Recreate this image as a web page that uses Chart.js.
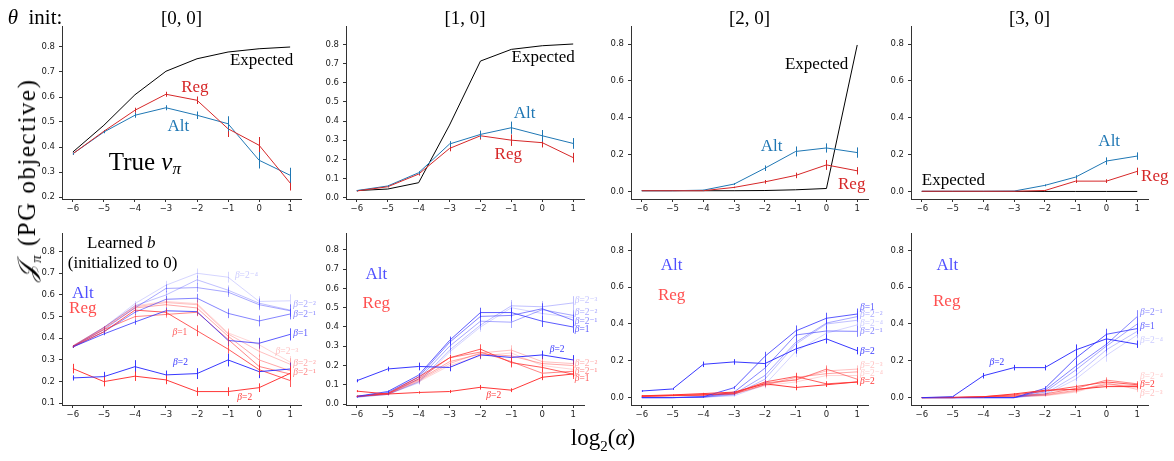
<!DOCTYPE html>
<html><head><meta charset="utf-8">
<script src="https://cdn.jsdelivr.net/npm/chart.js@4.4.1/dist/chart.umd.min.js"></script>
<style>
html,body{margin:0;padding:0;background:#fff;}
#wrap{position:relative;width:1174px;height:461px;overflow:hidden;background:#fff;}
canvas{position:absolute;}
.t{position:absolute;font-family:"Liberation Serif","DejaVu Serif",serif;color:#000;white-space:nowrap;line-height:1;}
</style></head><body><div id="wrap"></div>
<script>
// ---------------- DATA ----------------
const alphaLog2 = [-6, -5, -4, -3, -2, -1, 0, 1];
const xTickVals = [-6, -5, -4, -3, -2, -1, 0, 1];
const panelTitles = ['[0, 0]', '[1, 0]', '[2, 0]', '[3, 0]'];
const betaNames = ['2⁻⁴', '2⁻³', '2⁻²', '2⁻¹', '1', '2'];
const yTicks00 = [0.2, 0.3, 0.4, 0.5, 0.6, 0.7, 0.8];
const yTicks10 = [0.0, 0.1, 0.2, 0.3, 0.4, 0.5, 0.6, 0.7, 0.8];
const yTicksWide = [0.0, 0.2, 0.4, 0.6, 0.8];
const yTicksLearned00 = [0.1, 0.2, 0.3, 0.4, 0.5, 0.6, 0.7, 0.8];

// Row 1: true v_pi
const true00Expected = [0.380, 0.487, 0.609, 0.703, 0.753, 0.780, 0.793, 0.800];
const true00Alt      = [0.373, 0.460, 0.527, 0.557, 0.527, 0.493, 0.347, 0.287];
const true00AltErr   = [0.004, 0.005, 0.010, 0.010, 0.015, 0.030, 0.033, 0.030];
const true00Reg      = [0.373, 0.463, 0.547, 0.611, 0.587, 0.473, 0.407, 0.256];
const true00RegErr   = [0.004, 0.005, 0.010, 0.010, 0.015, 0.033, 0.033, 0.030];

const true10Expected = [0.037, 0.045, 0.078, 0.379, 0.713, 0.774, 0.793, 0.802];
const true10Alt      = [0.037, 0.061, 0.130, 0.280, 0.330, 0.365, 0.323, 0.283];
const true10AltErr   = [0.003, 0.004, 0.008, 0.015, 0.020, 0.032, 0.030, 0.028];
const true10Reg      = [0.035, 0.057, 0.123, 0.257, 0.323, 0.300, 0.287, 0.209];
const true10RegErr   = [0.003, 0.004, 0.008, 0.015, 0.020, 0.030, 0.025, 0.025];

const true20Expected = [0.004, 0.004, 0.004, 0.004, 0.005, 0.009, 0.016, 0.795];
const true20Alt      = [0.004, 0.004, 0.007, 0.040, 0.126, 0.217, 0.236, 0.211];
const true20AltErr   = [0.000, 0.000, 0.002, 0.005, 0.015, 0.027, 0.025, 0.028];
const true20Reg      = [0.004, 0.004, 0.004, 0.022, 0.052, 0.087, 0.144, 0.112];
const true20RegErr   = [0.000, 0.000, 0.002, 0.004, 0.010, 0.015, 0.027, 0.020];

const true30Expected = [0.000, 0.000, 0.000, 0.000, 0.000, 0.000, 0.000, 0.000];
const true30Alt      = [0.001, 0.001, 0.001, 0.002, 0.033, 0.078, 0.165, 0.192];
const true30AltErr   = [0.000, 0.000, 0.000, 0.000, 0.005, 0.010, 0.020, 0.020];
const true30Reg      = [0.001, 0.001, 0.001, 0.001, 0.005, 0.056, 0.056, 0.109];
const true30RegErr   = [0.000, 0.000, 0.000, 0.000, 0.003, 0.010, 0.010, 0.020];

// Row 2: learned b, one row per beta (2^-4 ... 2)
const learned00Alt = [
  [0.365, 0.450, 0.560, 0.645, 0.700, 0.682, 0.570, 0.573],
  [0.362, 0.450, 0.550, 0.600, 0.670, 0.622, 0.562, 0.530],
  [0.362, 0.440, 0.540, 0.630, 0.634, 0.613, 0.555, 0.527],
  [0.360, 0.430, 0.520, 0.580, 0.585, 0.515, 0.480, 0.512],
  [0.360, 0.420, 0.475, 0.527, 0.523, 0.390, 0.377, 0.418],
  [0.217, 0.223, 0.269, 0.231, 0.237, 0.300, 0.246, 0.258]];
const learned00AltErr = [
  [0.004, 0.006, 0.012, 0.020, 0.022, 0.025, 0.025, 0.030],
  [0.004, 0.006, 0.012, 0.018, 0.020, 0.022, 0.025, 0.028],
  [0.004, 0.006, 0.012, 0.018, 0.020, 0.022, 0.025, 0.028],
  [0.004, 0.006, 0.012, 0.015, 0.020, 0.022, 0.025, 0.025],
  [0.004, 0.006, 0.012, 0.015, 0.018, 0.025, 0.025, 0.028],
  [0.012, 0.022, 0.030, 0.020, 0.025, 0.030, 0.030, 0.030]];
const learned00Reg = [
  [0.365, 0.450, 0.550, 0.570, 0.560, 0.425, 0.370, 0.290],
  [0.365, 0.450, 0.545, 0.565, 0.555, 0.420, 0.340, 0.280],
  [0.363, 0.445, 0.540, 0.555, 0.540, 0.410, 0.300, 0.250],
  [0.362, 0.440, 0.500, 0.510, 0.520, 0.395, 0.270, 0.235],
  [0.360, 0.430, 0.530, 0.520, 0.435, 0.350, 0.255, 0.205],
  [0.260, 0.200, 0.225, 0.208, 0.154, 0.154, 0.172, 0.238]];
const learned00RegErr = [
  [0.004, 0.006, 0.012, 0.015, 0.020, 0.022, 0.025, 0.028],
  [0.004, 0.006, 0.012, 0.015, 0.020, 0.022, 0.025, 0.028],
  [0.004, 0.006, 0.012, 0.015, 0.020, 0.022, 0.025, 0.025],
  [0.004, 0.006, 0.012, 0.015, 0.018, 0.022, 0.025, 0.025],
  [0.004, 0.006, 0.012, 0.015, 0.025, 0.020, 0.025, 0.030],
  [0.022, 0.022, 0.022, 0.020, 0.020, 0.020, 0.020, 0.030]];

const learned10Alt = [
  [0.035, 0.050, 0.110, 0.270, 0.400, 0.500, 0.470, 0.450],
  [0.036, 0.050, 0.115, 0.280, 0.410, 0.510, 0.505, 0.525],
  [0.037, 0.055, 0.130, 0.300, 0.430, 0.425, 0.490, 0.460],
  [0.038, 0.060, 0.140, 0.320, 0.455, 0.460, 0.495, 0.435],
  [0.040, 0.065, 0.150, 0.330, 0.475, 0.475, 0.430, 0.400],
  [0.121, 0.182, 0.195, 0.190, 0.255, 0.242, 0.255, 0.229]];
const learned10AltErr = [
  [0.003, 0.005, 0.010, 0.020, 0.025, 0.030, 0.030, 0.030],
  [0.003, 0.005, 0.010, 0.020, 0.025, 0.030, 0.030, 0.035],
  [0.003, 0.005, 0.010, 0.020, 0.025, 0.030, 0.030, 0.030],
  [0.003, 0.005, 0.010, 0.020, 0.025, 0.030, 0.030, 0.030],
  [0.003, 0.005, 0.010, 0.020, 0.025, 0.025, 0.030, 0.030],
  [0.008, 0.012, 0.020, 0.020, 0.020, 0.025, 0.022, 0.025]];
const learned10Reg = [
  [0.040, 0.050, 0.115, 0.200, 0.250, 0.265, 0.200, 0.180],
  [0.040, 0.050, 0.120, 0.210, 0.265, 0.280, 0.220, 0.210],
  [0.040, 0.052, 0.125, 0.220, 0.260, 0.250, 0.210, 0.200],
  [0.040, 0.053, 0.130, 0.240, 0.270, 0.220, 0.160, 0.170],
  [0.040, 0.055, 0.140, 0.240, 0.285, 0.215, 0.190, 0.155],
  [0.067, 0.052, 0.060, 0.065, 0.087, 0.072, 0.139, 0.156]];
const learned10RegErr = [
  [0.003, 0.004, 0.010, 0.015, 0.020, 0.025, 0.025, 0.025],
  [0.003, 0.004, 0.010, 0.015, 0.020, 0.025, 0.025, 0.025],
  [0.003, 0.004, 0.010, 0.015, 0.020, 0.025, 0.025, 0.025],
  [0.003, 0.004, 0.010, 0.015, 0.020, 0.025, 0.025, 0.025],
  [0.003, 0.004, 0.010, 0.015, 0.025, 0.025, 0.025, 0.025],
  [0.005, 0.005, 0.006, 0.008, 0.012, 0.010, 0.015, 0.015]];

const learned20Alt = [
  [0.000, 0.000, 0.002, 0.010, 0.070, 0.250, 0.350, 0.395],
  [0.000, 0.000, 0.002, 0.015, 0.100, 0.290, 0.400, 0.420],
  [0.000, 0.000, 0.003, 0.020, 0.120, 0.300, 0.405, 0.440],
  [0.000, 0.000, 0.004, 0.030, 0.160, 0.340, 0.362, 0.360],
  [0.000, 0.000, 0.005, 0.054, 0.224, 0.362, 0.431, 0.454],
  [0.036, 0.047, 0.181, 0.194, 0.185, 0.264, 0.319, 0.255]];
const learned20AltErr = [
  [0.000, 0.000, 0.002, 0.005, 0.020, 0.030, 0.030, 0.030],
  [0.000, 0.000, 0.002, 0.005, 0.020, 0.030, 0.030, 0.030],
  [0.000, 0.000, 0.002, 0.005, 0.020, 0.030, 0.030, 0.030],
  [0.000, 0.000, 0.002, 0.005, 0.020, 0.030, 0.030, 0.030],
  [0.000, 0.000, 0.002, 0.008, 0.025, 0.030, 0.030, 0.030],
  [0.004, 0.005, 0.015, 0.015, 0.020, 0.025, 0.025, 0.020]];
const learned20Reg = [
  [0.005, 0.010, 0.012, 0.020, 0.065, 0.085, 0.120, 0.120],
  [0.006, 0.010, 0.013, 0.020, 0.070, 0.100, 0.145, 0.155],
  [0.007, 0.011, 0.014, 0.020, 0.070, 0.110, 0.130, 0.140],
  [0.008, 0.012, 0.015, 0.022, 0.080, 0.095, 0.155, 0.100],
  [0.008, 0.012, 0.016, 0.025, 0.085, 0.115, 0.075, 0.085],
  [0.010, 0.015, 0.022, 0.030, 0.075, 0.055, 0.070, 0.085]];
const learned20RegErr = [
  [0.001, 0.002, 0.003, 0.005, 0.012, 0.020, 0.020, 0.020],
  [0.001, 0.002, 0.003, 0.005, 0.012, 0.020, 0.020, 0.020],
  [0.001, 0.002, 0.003, 0.005, 0.012, 0.020, 0.020, 0.020],
  [0.001, 0.002, 0.003, 0.005, 0.012, 0.020, 0.020, 0.020],
  [0.001, 0.002, 0.003, 0.005, 0.012, 0.020, 0.015, 0.015],
  [0.002, 0.002, 0.004, 0.005, 0.010, 0.015, 0.012, 0.012]];

const learned30Alt = [
  [0.000, 0.000, 0.000, 0.000, 0.015, 0.100, 0.230, 0.340],
  [0.000, 0.000, 0.000, 0.000, 0.020, 0.120, 0.260, 0.360],
  [0.000, 0.000, 0.000, 0.000, 0.030, 0.150, 0.280, 0.400],
  [0.000, 0.000, 0.000, 0.000, 0.040, 0.170, 0.290, 0.440],
  [0.000, 0.000, 0.000, 0.000, 0.050, 0.214, 0.344, 0.375],
  [0.000, 0.005, 0.119, 0.163, 0.163, 0.259, 0.319, 0.290]];
const learned30AltErr = [
  [0.000, 0.000, 0.000, 0.000, 0.008, 0.030, 0.035, 0.035],
  [0.000, 0.000, 0.000, 0.000, 0.008, 0.030, 0.035, 0.035],
  [0.000, 0.000, 0.000, 0.000, 0.010, 0.030, 0.035, 0.035],
  [0.000, 0.000, 0.000, 0.000, 0.010, 0.030, 0.035, 0.035],
  [0.000, 0.000, 0.000, 0.000, 0.012, 0.035, 0.030, 0.030],
  [0.000, 0.002, 0.015, 0.015, 0.015, 0.030, 0.030, 0.020]];
const learned30Reg = [
  [0.000, 0.000, 0.002, 0.005, 0.010, 0.030, 0.075, 0.055],
  [0.000, 0.000, 0.002, 0.006, 0.012, 0.035, 0.080, 0.045],
  [0.000, 0.000, 0.003, 0.008, 0.015, 0.040, 0.070, 0.065],
  [0.000, 0.000, 0.004, 0.010, 0.020, 0.050, 0.095, 0.075],
  [0.000, 0.000, 0.005, 0.015, 0.035, 0.060, 0.085, 0.070],
  [0.000, 0.002, 0.005, 0.020, 0.040, 0.045, 0.060, 0.060]];
const learned30RegErr = [
  [0.000, 0.000, 0.001, 0.002, 0.004, 0.010, 0.015, 0.015],
  [0.000, 0.000, 0.001, 0.002, 0.004, 0.010, 0.015, 0.015],
  [0.000, 0.000, 0.001, 0.002, 0.004, 0.010, 0.015, 0.015],
  [0.000, 0.000, 0.001, 0.002, 0.004, 0.010, 0.015, 0.015],
  [0.000, 0.000, 0.001, 0.003, 0.005, 0.010, 0.012, 0.012],
  [0.000, 0.001, 0.002, 0.004, 0.005, 0.008, 0.010, 0.010]];

// ---------------- STYLE ----------------
const SERIF = '"Liberation Serif", "DejaVu Serif", serif';
const ALT1 = '#1f77b4', REG1 = '#d62728', EXP = '#000000';
const betaAlpha = [0.2, 0.3, 0.42, 0.58, 0.78, 0.95];
const altB = a => `rgba(45,45,255,${a})`;
const regB = a => `rgba(255,45,45,${a})`;
const ALT2 = 'rgba(80,80,255,1)', REG2 = 'rgba(255,80,80,1)';

const wrap = document.getElementById('wrap');

function drawRich(ctx, str, x, y, size, color, align) {
  const parts = str.split(/(\*[^*]+\*|_[^_]+_)/).filter(s => s.length);
  const segs = parts.map(s => {
    if (s[0] === '*' && s.length > 2) return {t: s.slice(1, -1), it: true, sz: size, dy: 0};
    if (s[0] === '_' && s.length > 2) return {t: s.slice(1, -1), it: true, sz: size * 0.68, dy: size * 0.25};
    return {t: s, it: false, sz: size, dy: 0};
  });
  let w = 0;
  segs.forEach(s => { ctx.font = (s.it ? 'italic ' : '') + s.sz + 'px ' + SERIF; s.w = ctx.measureText(s.t).width; w += s.w; });
  let cx = align === 'left' ? x : (align === 'right' ? x - w : x - w / 2);
  ctx.fillStyle = color; ctx.textBaseline = 'middle'; ctx.textAlign = 'left';
  segs.forEach(s => { ctx.font = (s.it ? 'italic ' : '') + s.sz + 'px ' + SERIF; ctx.fillText(s.t, cx, y + s.dy); cx += s.w; });
}

const annotPlugin = {
  id: 'annot',
  afterDatasetsDraw(chart) {
    const ctx = chart.ctx, xs = chart.scales.x, ys = chart.scales.y;
    chart.data.datasets.forEach(ds => {
      if (!ds.err) return;
      ctx.save();
      ctx.strokeStyle = ds.borderColor; ctx.lineWidth = 1;
      ds.data.forEach((pt, j) => {
        const e = ds.err[j];
        if (!e) return;
        const px = Math.round(xs.getPixelForValue(pt.x)) + 0.5;
        ctx.beginPath();
        ctx.moveTo(px, ys.getPixelForValue(pt.y - e));
        ctx.lineTo(px, ys.getPixelForValue(pt.y + e));
        ctx.stroke();
      });
      ctx.restore();
    });
  },
  afterDraw(chart, args, opts) {
    const ctx = chart.ctx, xs = chart.scales.x, ys = chart.scales.y;
    (opts.labels || []).forEach(l => {
      drawRich(ctx, l.t, xs.getPixelForValue(l.x), ys.getPixelForValue(l.y), l.size, l.color, l.align || 'center');
    });
  }
};

function series(vals, color, err) {
  return {data: alphaLog2.map((a, i) => ({x: a, y: vals[i]})), borderColor: color, backgroundColor: color,
          borderWidth: 1, pointRadius: 0, tension: 0, fill: false, err: err};
}

function trueDatasets(exp, alt, altErr, reg, regErr) {
  return [series(reg, REG1, regErr), series(alt, ALT1, altErr), series(exp, EXP, null)];
}
function learnedDatasets(alt, altErr, reg, regErr) {
  const out = [];
  for (let k = betaNames.length - 1; k >= 0; k--) {
    out.push(series(alt[k], altB(betaAlpha[k]), altErr[k]));
    out.push(series(reg[k], regB(betaAlpha[k]), regErr[k]));
  }
  return out;
}
const bl = (k, x, y, alt, align) => ({t: '*β*=' + betaNames[k], x: x, y: y, size: 9.5,
  color: alt ? altB(Math.max(betaAlpha[k], 0.25)) : regB(Math.max(betaAlpha[k], 0.25)), align: align || 'left'});

const panels = [
  {L: 62, R: 301, T: 26, B: 199, yMin: 0.192, yMax: 0.884, yTicks: yTicks00,
   datasets: trueDatasets(true00Expected, true00Alt, true00AltErr, true00Reg, true00RegErr),
   labels: [
     {t: 'Expected', x: 0.08, y: 0.744, size: 17, color: EXP},
     {t: 'Reg', x: -2.07, y: 0.637, size: 17, color: REG1},
     {t: 'Alt', x: -2.6, y: 0.483, size: 17, color: ALT1},
     {t: 'True *v*_π_', x: -3.68, y: 0.333, size: 25, color: EXP}]},
  {L: 346, R: 584, T: 26, B: 199, yMin: -0.007, yMax: 0.896, yTicks: yTicks10,
   datasets: trueDatasets(true10Expected, true10Alt, true10AltErr, true10Reg, true10RegErr),
   labels: [
     {t: 'Expected', x: 0.03, y: 0.73, size: 17, color: EXP},
     {t: 'Alt', x: -0.57, y: 0.44, size: 17, color: ALT1},
     {t: 'Reg', x: -1.1, y: 0.226, size: 17, color: REG1}]},
  {L: 631, R: 868, T: 26, B: 199, yMin: -0.041, yMax: 0.898, yTicks: yTicksWide,
   datasets: trueDatasets(true20Expected, true20Alt, true20AltErr, true20Reg, true20RegErr),
   labels: [
     {t: 'Expected', x: -0.32, y: 0.691, size: 17, color: EXP},
     {t: 'Alt', x: -1.78, y: 0.244, size: 17, color: ALT1},
     {t: 'Reg', x: 0.82, y: 0.036, size: 17, color: REG1}]},
  {L: 911, R: 1148, T: 26, B: 199, yMin: -0.041, yMax: 0.898, yTicks: yTicksWide,
   datasets: trueDatasets(true30Expected, true30Alt, true30AltErr, true30Reg, true30RegErr),
   labels: [
     {t: 'Expected', x: -6.0, y: 0.06, size: 17, color: EXP, align: 'left'},
     {t: 'Alt', x: 0.09, y: 0.272, size: 17, color: ALT1},
     {t: 'Reg', x: 1.57, y: 0.083, size: 17, color: REG1}]},
  {L: 62, R: 301, T: 233, B: 405, yMin: 0.092, yMax: 0.886, yTicks: yTicksLearned00,
   datasets: learnedDatasets(learned00Alt, learned00AltErr, learned00Reg, learned00RegErr),
   labels: [
     {t: 'Learned *b*', x: -4.44, y: 0.838, size: 17, color: EXP},
     {t: '(initialized to 0)', x: -4.4, y: 0.746, size: 17, color: EXP},
     {t: 'Alt', x: -5.68, y: 0.608, size: 17, color: ALT2},
     {t: 'Reg', x: -5.68, y: 0.538, size: 17, color: REG2},
     bl(0, -0.78, 0.692, true), bl(2, 1.1, 0.554, true), bl(3, 1.1, 0.512, true), bl(4, 1.1, 0.424, true),
     bl(5, -2.77, 0.288, true),
     bl(4, -2.79, 0.428, false), bl(1, 0.53, 0.338, false), bl(2, 1.1, 0.282, false), bl(3, 1.1, 0.243, false),
     bl(5, -0.7, 0.126, false)]},
  {L: 346, R: 584, T: 233, B: 405, yMin: -0.005, yMax: 0.888, yTicks: yTicks10,
   datasets: learnedDatasets(learned10Alt, learned10AltErr, learned10Reg, learned10RegErr),
   labels: [
     {t: 'Alt', x: -5.37, y: 0.674, size: 17, color: ALT2},
     {t: 'Reg', x: -5.37, y: 0.524, size: 17, color: REG2},
     bl(5, 0.24, 0.284, true), bl(5, -1.81, 0.042, false),
     bl(1, 1.05, 0.535, true), bl(2, 1.05, 0.474, true), bl(3, 1.05, 0.43, true), bl(4, 1.05, 0.385, true),
     bl(2, 1.05, 0.21, false), bl(3, 1.05, 0.168, false), bl(4, 1.05, 0.131, false)]},
  {L: 631, R: 868, T: 233, B: 405, yMin: -0.04, yMax: 0.894, yTicks: yTicksWide,
   datasets: learnedDatasets(learned20Alt, learned20AltErr, learned20Reg, learned20RegErr),
   labels: [
     {t: 'Alt', x: -5.03, y: 0.717, size: 17, color: ALT2},
     {t: 'Reg', x: -5.03, y: 0.554, size: 17, color: REG2},
     bl(4, 1.09, 0.49, true), bl(2, 1.09, 0.45, true), bl(0, 1.09, 0.40, true), bl(3, 1.09, 0.357, true),
     bl(5, 1.09, 0.253, true),
     bl(1, 1.09, 0.176, false), bl(0, 1.09, 0.13, false), bl(5, 1.09, 0.087, false)]},
  {L: 911, R: 1148, T: 233, B: 405, yMin: -0.04, yMax: 0.894, yTicks: yTicksWide,
   datasets: learnedDatasets(learned30Alt, learned30AltErr, learned30Reg, learned30RegErr),
   labels: [
     {t: 'Alt', x: -5.17, y: 0.72, size: 17, color: ALT2},
     {t: 'Reg', x: -5.19, y: 0.52, size: 17, color: REG2},
     bl(5, -3.8, 0.19, true),
     bl(3, 1.09, 0.463, true), bl(4, 1.09, 0.386, true), bl(0, 1.09, 0.31, true),
     bl(0, 1.09, 0.114, false), bl(5, 1.09, 0.069, false), bl(1, 1.09, 0.024, false)]}
];

const YW = 45, PT = 14, PR = 60, XH = 24;
const tickFont = {family: '"DejaVu Sans", sans-serif', size: 8.5};
const fmtX = v => (v < 0 ? '\u2212' + Math.abs(v) : String(v));

panels.forEach(p => {
  const cv = document.createElement('canvas');
  const w = YW + (p.R - p.L) + PR, h = PT + (p.B - p.T) + XH;
  cv.width = w; cv.height = h;
  cv.style.left = (p.L - YW) + 'px'; cv.style.top = (p.T - PT) + 'px';
  cv.style.width = w + 'px'; cv.style.height = h + 'px';
  wrap.appendChild(cv);
  new Chart(cv.getContext('2d'), {
    type: 'line',
    data: {datasets: p.datasets},
    options: {
      responsive: false, animation: false, devicePixelRatio: 1,
      layout: {padding: {left: 0, top: PT, right: PR, bottom: 0}},
      plugins: {legend: {display: false}, tooltip: {enabled: false}, annot: {labels: p.labels}},
      scales: {
        x: {type: 'linear', min: -6.35, max: 1.35,
            afterBuildTicks: s => { s.ticks = xTickVals.map(v => ({value: v})); },
            afterFit: s => { s.height = XH; },
            ticks: {font: tickFont, color: '#222', padding: 2, maxRotation: 0, autoSkip: false, callback: fmtX},
            grid: {display: true, drawOnChartArea: false, drawTicks: true, tickLength: 3, color: '#333'},
            border: {display: true, color: '#333', width: 1}},
        y: {type: 'linear', min: p.yMin, max: p.yMax,
            afterBuildTicks: s => { s.ticks = p.yTicks.map(v => ({value: v})); },
            afterFit: s => { s.width = YW; },
            ticks: {font: tickFont, color: '#222', padding: 4, autoSkip: false, callback: v => v.toFixed(1)},
            grid: {display: true, drawOnChartArea: false, drawTicks: true, tickLength: 3, color: '#333'},
            border: {display: true, color: '#333', width: 1}}
      }
    },
    plugins: [annotPlugin]
  });
});

// ---------------- TEXT ----------------
function addText(html, x, y, size, extra) {
  const d = document.createElement('div');
  d.className = 't';
  d.innerHTML = html;
  d.style.fontSize = size + 'px';
  d.style.left = x + 'px'; d.style.top = y + 'px';
  d.style.transform = extra || 'translate(-50%,-50%)';
  wrap.appendChild(d);
  return d;
}
addText('<i>θ</i>&nbsp; init:', 35, 17, 21);
panels.slice(0, 4).forEach((p, i) => addText(panelTitles[i], (p.L + p.R) / 2, 17, 19));
const yl = addText('<span style="font-style:italic;font-family:\'DejaVu Serif\',serif">𝒥</span><sub style="font-size:15px;font-style:italic">π</sub>&nbsp;(PG objective)',
        29, 180, 25, 'translate(-50%,-50%) rotate(-90deg)');
yl.style.letterSpacing = '1.5px';
addText('log<sub style="font-size:15px">2</sub>(<i>α</i>)', 603, 440, 23);
</script>
</body></html>
